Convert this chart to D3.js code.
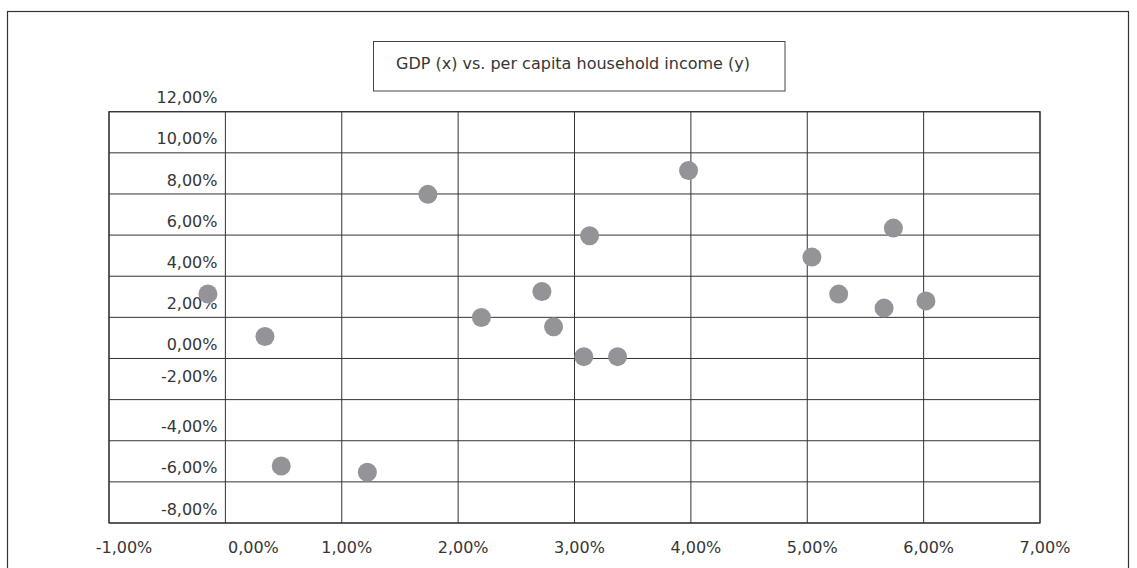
<!DOCTYPE html>
<html>
<head>
<meta charset="utf-8">
<script src="https://cdn.jsdelivr.net/npm/d3@7"></script>
<style>
  html, body { margin: 0; padding: 0; background: #fff; }
  svg { display: block; }
  text { font-family: "DejaVu Sans", Verdana, sans-serif; fill: #363636; }
</style>
</head>
<body>
<svg id="chart" width="1137" height="568"></svg>
<script>
// ---- data (values in percent) ----
const chartTitle = "GDP (x) vs. per capita household income (y)";
const xTickValues = [-1, 0, 1, 2, 3, 4, 5, 6, 7];
const yTickValues = [-8, -6, -4, -2, 0, 2, 4, 6, 8, 10, 12];
const gdpGrowth    = [-0.15, 0.34, 0.48, 1.22, 1.74, 3.98, 3.13, 2.72, 2.20, 2.82, 3.08, 3.37, 5.74, 5.04, 5.27, 5.66, 6.02];
const incomeGrowth = [ 3.14, 1.07, -5.23, -5.53, 7.98, 9.14, 5.97, 3.26, 1.99, 1.54, 0.09, 0.09, 6.34, 4.93, 3.13, 2.45, 2.80];

// ---- layout ----
const svg = d3.select("#chart");
const plot = { left: 109, right: 1040, top: 111.7, bottom: 523 };

const x = d3.scaleLinear().domain([d3.min(xTickValues), d3.max(xTickValues)]).range([plot.left, plot.right]);
const y = d3.scaleLinear().domain([d3.min(yTickValues), d3.max(yTickValues)]).range([plot.bottom, plot.top]);

const locale = d3.formatLocale({ decimal: ",", thousands: ".", grouping: [3], currency: ["", "€"], minus: "-" });
const fmt = v => locale.format(".2f")(v) + "%";

// outer frame
svg.append("rect")
  .attr("x", 7.5).attr("y", 11.5).attr("width", 1121).attr("height", 600)
  .attr("fill", "none").attr("stroke", "#333").attr("stroke-width", 1.2);

// title box
svg.append("rect")
  .attr("x", 373.5).attr("y", 41.5).attr("width", 411.5).attr("height", 49.5)
  .attr("fill", "#fff").attr("stroke", "#444").attr("stroke-width", 1);
svg.append("text")
  .attr("x", 573).attr("y", 68.5)
  .attr("text-anchor", "middle")
  .style("font-size", "16px")
  .text(chartTitle);

// grid
const grid = svg.append("g").attr("stroke", "#333").attr("stroke-width", 1).attr("fill", "none");
grid.selectAll("line.h").data(yTickValues).join("line").attr("class", "h")
  .attr("x1", plot.left).attr("x2", plot.right)
  .attr("y1", d => y(d)).attr("y2", d => y(d));
grid.selectAll("line.v").data(xTickValues).join("line").attr("class", "v")
  .attr("y1", plot.top).attr("y2", plot.bottom)
  .attr("x1", d => x(d)).attr("x2", d => x(d));
grid.append("rect")
  .attr("x", plot.left).attr("y", plot.top)
  .attr("width", plot.right - plot.left).attr("height", plot.bottom - plot.top)
  .attr("stroke-width", 1.2);

// y labels (sit above their grid lines, as in the reference)
svg.append("g").selectAll("text").data(yTickValues).join("text")
  .attr("x", 217.5)
  .attr("y", d => y(d) - (d === -2 ? 23.2 : 14.2))
  .attr("dy", "0.36em")
  .attr("text-anchor", "end")
  .style("font-size", "16px")
  .text(fmt);

// x labels
const xLabelShift = v => v === -1 ? 15 : v === 0 ? 28 : 5;
svg.append("g").selectAll("text").data(xTickValues).join("text")
  .attr("x", d => x(d) + xLabelShift(d))
  .attr("y", plot.bottom + 24.5)
  .attr("dy", "0.36em")
  .attr("text-anchor", "middle")
  .style("font-size", "16px")
  .text(fmt);

// points
const pts = gdpGrowth.map((g, i) => ({ g, inc: incomeGrowth[i] }));
svg.append("g").selectAll("circle").data(pts).join("circle")
  .attr("cx", d => x(d.g))
  .attr("cy", d => y(d.inc))
  .attr("r", 9.5)
  .attr("fill", "#939398");
</script>
</body>
</html>
